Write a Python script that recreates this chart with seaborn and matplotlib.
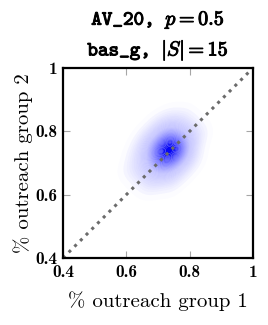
import numpy as np
import matplotlib
matplotlib.use("Agg")
import matplotlib.pyplot as plt
import matplotlib.patheffects as pe
import seaborn as sns
from matplotlib.colors import LinearSegmentedColormap

# grid positions of the 2D density (step 0.02)
x_centres = [0.60, 0.62, 0.64, 0.66, 0.68, 0.70, 0.72, 0.74, 0.76, 0.78, 0.80, 0.82, 0.84, 0.86]
y_centres = [0.86, 0.84, 0.82, 0.80, 0.78, 0.76, 0.74, 0.72, 0.70, 0.68, 0.66, 0.64, 0.62, 0.60]

# counts, rows = y_centres (top to bottom), cols = x_centres
counts = [
    [0, 0, 0, 0, 0, 0, 0, 1, 0, 1, 0, 0, 0, 0],
    [0, 0, 0, 0, 0, 1, 1, 1, 1, 1, 1, 0, 0, 0],
    [0, 0, 0, 0, 1, 1, 2, 2, 2, 1, 1, 1, 0, 0],
    [0, 0, 0, 1, 1, 2, 3, 3, 3, 2, 2, 1, 1, 0],
    [0, 0, 1, 1, 2, 3, 5, 5, 4, 3, 2, 1, 1, 0],
    [0, 0, 1, 2, 3, 5, 7, 8, 6, 4, 2, 1, 0, 0],
    [0, 1, 1, 2, 4, 6, 9, 12, 7, 5, 2, 1, 0, 0],
    [0, 1, 1, 2, 3, 5, 7, 7, 6, 4, 2, 1, 0, 0],
    [0, 1, 1, 2, 3, 4, 5, 5, 4, 2, 1, 1, 0, 0],
    [1, 1, 1, 2, 2, 3, 3, 3, 2, 1, 1, 0, 0, 0],
    [0, 1, 1, 1, 2, 2, 2, 2, 1, 1, 0, 0, 0, 0],
    [0, 0, 1, 1, 1, 1, 1, 1, 1, 0, 0, 0, 0, 0],
    [0, 0, 0, 1, 1, 1, 0, 1, 0, 0, 0, 0, 0, 0],
    [0, 0, 0, 0, 0, 0, 0, 0, 0, 0, 0, 0, 0, 0],
]

ticks = [0.4, 0.6, 0.8, 1.0]
tick_labels = ["0.4", "0.6", "0.8", "1"]
title = "AV_20, $p = 0.5$\nbas_g, $|S| = 15$"
xlabel = "% outreach group 1"
ylabel = "% outreach group 2"

plt.rcParams["mathtext.fontset"] = "cm"
plt.rcParams["axes.formatter.use_mathtext"] = True

xx, yy = np.meshgrid(x_centres, y_centres)
ww = np.array(counts, dtype=float)
keep = ww.ravel() > 0
df_x = xx.ravel()[keep]
df_y = yy.ravel()[keep]
df_w = ww.ravel()[keep]

blue = LinearSegmentedColormap.from_list(
    "blue_alpha", [(0, 0, 1, 0.0), (0.35, 0.35, 1, 0.35), (0.15, 0.15, 1, 0.7), (0, 0, 0.95, 1.0)])

fig = plt.figure(figsize=(2.68, 3.25), dpi=100)
ax = fig.add_axes([0.235, 0.206, 0.709, 0.585])

sns.kdeplot(x=df_x, y=df_y, weights=df_w, fill=True, levels=40, thresh=0.01,
            bw_adjust=1.0, cmap=blue, antialiased=True, linewidths=0, ax=ax)

ax.plot([0.4, 1.0], [0.4, 1.0], color="0.42", linestyle=":", linewidth=2.2)

ax.set_xlim(0.4, 1.0)
ax.set_ylim(0.4, 1.0)
ax.set_xticks(ticks)
ax.set_yticks(ticks)
ax.set_xticklabels(tick_labels, fontfamily="cmb10", fontsize=12.5)
ax.set_yticklabels(tick_labels, fontfamily="cmb10", fontsize=12.5)
ax.tick_params(direction="in", length=5, color="0.65", width=0.8,
               top=True, right=True)
ax.tick_params(axis="x", pad=5)
ax.tick_params(axis="y", pad=4)
for s in ax.spines.values():
    s.set_linewidth(1.6)
    s.set_color("black")
ax.set_xlabel(xlabel, fontfamily="cmr10", fontsize=15, labelpad=8)
ax.set_ylabel(ylabel, fontfamily="cmr10", fontsize=15, labelpad=2)
t = ax.set_title(title, fontfamily="cmtt10", fontsize=14.5, pad=9,
                 linespacing=1.45)
t.set_path_effects([pe.withStroke(linewidth=0.7, foreground="black")])

fig.savefig("out.png", dpi=100)
